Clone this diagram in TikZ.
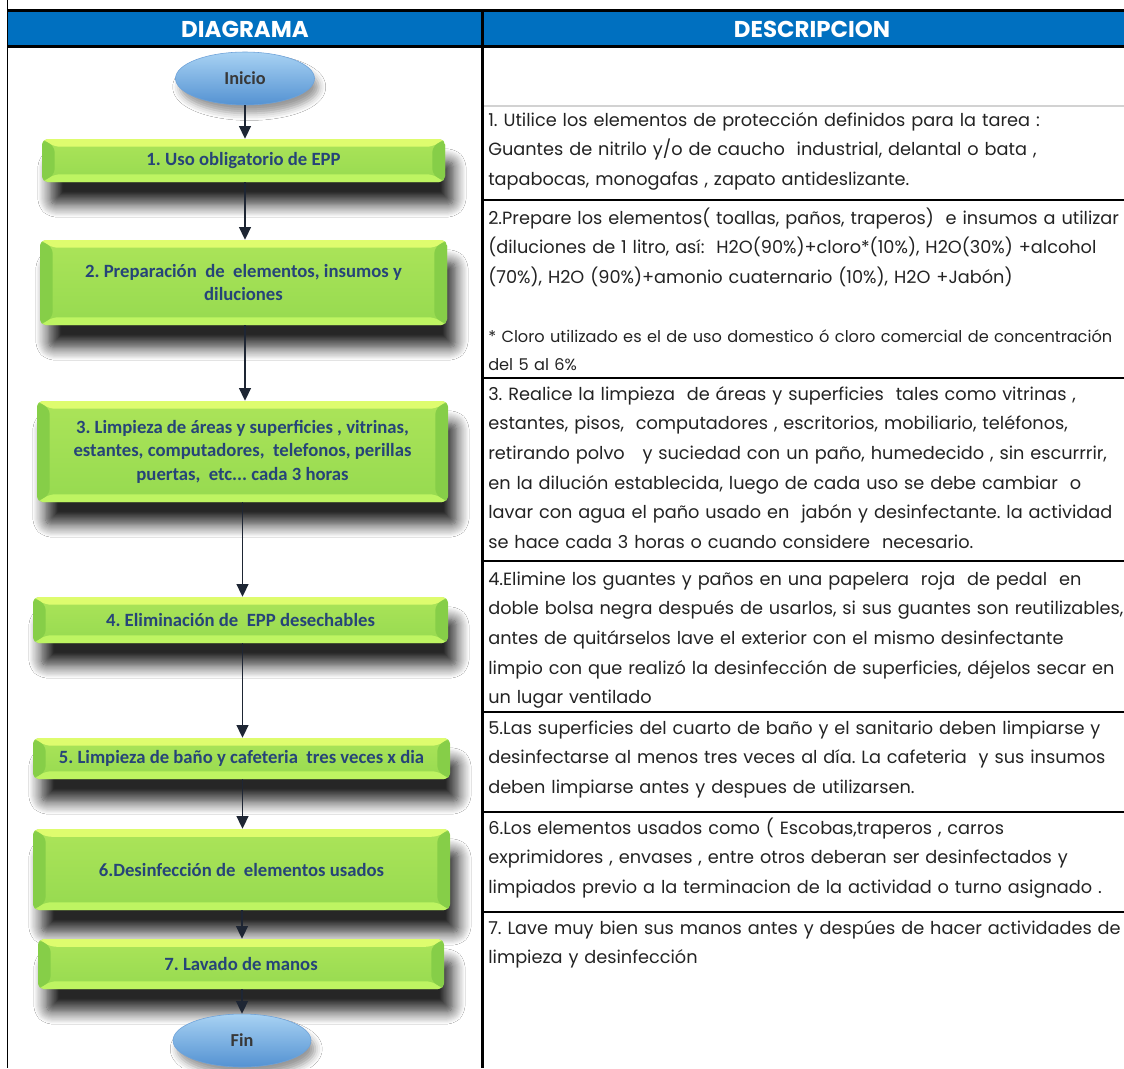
\documentclass[tikz,border=0pt]{standalone}
\usepackage{fontspec}
\setmainfont{Poppins}
\newfontfamily\calib{Carlito}
\usetikzlibrary{arrows.meta,shapes.geometric,shadows.blur}
\frenchspacing

\definecolor{hdrblue}{RGB}{0,112,192}
\definecolor{boxtxt}{RGB}{38,68,120}
\definecolor{arrowc}{RGB}{30,38,52}
\definecolor{gface}{RGB}{150,218,80}
\definecolor{gtop}{RGB}{222,252,110}
\definecolor{gbot}{RGB}{190,244,98}
\definecolor{gside}{RGB}{134,206,72}
\definecolor{etop}{RGB}{168,210,243}
\definecolor{ebot}{RGB}{84,146,210}
\definecolor{desctxt}{RGB}{35,35,35}

\newcommand\pxu{0.025cm}

\tikzset{
  boxsize/.style 2 args={minimum width=#1*\pxu, minimum height=#2*\pxu},
  stepbox/.style={rectangle, rounded corners=4pt, inner sep=0pt, align=center,
    top color=gface!70!gtop, bottom color=gface,
    font=\calib\bfseries\fontsize{13.3}{16.7}\selectfont, text=boxtxt,
    blur shadow={shadow xshift=6pt, shadow yshift=-16pt, shadow blur radius=9pt,
      shadow blur steps=12, shadow opacity=85},
    path picture={
      \fill[gtop] (path picture bounding box.north west) -- (path picture bounding box.north east)
        -- ([xshift=-9pt,yshift=-5.5pt]path picture bounding box.north east)
        -- ([xshift=9pt,yshift=-5.5pt]path picture bounding box.north west) -- cycle;
      \fill[gbot] (path picture bounding box.south west) -- (path picture bounding box.south east)
        -- ([xshift=-9pt,yshift=5.5pt]path picture bounding box.south east)
        -- ([xshift=9pt,yshift=5.5pt]path picture bounding box.south west) -- cycle;
      \fill[gside] (path picture bounding box.north west)
        -- ([xshift=9pt,yshift=-5.5pt]path picture bounding box.north west)
        -- ([xshift=9pt,yshift=5.5pt]path picture bounding box.south west)
        -- (path picture bounding box.south west) -- cycle;
      \fill[gside] (path picture bounding box.north east)
        -- ([xshift=-9pt,yshift=-5.5pt]path picture bounding box.north east)
        -- ([xshift=-9pt,yshift=5.5pt]path picture bounding box.south east)
        -- (path picture bounding box.south east) -- cycle;
    }},
  endpt/.style={ellipse, inner sep=0pt, top color=etop, bottom color=ebot, draw=ebot!85!white,
    font=\calib\bfseries\fontsize{13}{15}\selectfont, text=black!78,
    blur shadow={shadow xshift=3pt, shadow yshift=-6pt, shadow blur radius=5pt, shadow opacity=40}},
  flow/.style={-{Triangle[width=8.5pt,length=9pt]}, draw=arrowc, line width=0.9pt},
  thickrule/.style={line width=2.1pt, black},
  hdr/.style={font=\bfseries\fontsize{16.3}{19}\selectfont, text=white, inner sep=0pt},
  desc/.style={anchor=base west, inner sep=0pt, text width=30cm, align=left, text=desctxt,
    font=\fontsize{12.6}{21.1}\selectfont},
  descsmall/.style={desc, font=\fontsize{11.5}{20}\selectfont},
}

\begin{document}
\begin{tikzpicture}[x=0.025cm,y=-0.025cm]
  \useasboundingbox (0,0) rectangle (1124,1068);
  \fill[white] (0,0) rectangle (1124,1068);

  % table frame
  \fill[hdrblue] (7,11) rectangle (1124,46);
  \draw[line width=0.7pt] (7,0) -- (7,1068);
  \draw[thickrule] (7,10.5) -- (1124,10.5);
  \draw[thickrule] (7,46.5) -- (1124,46.5);
  \draw[thickrule] (482.5,10) -- (482.5,1068);
  \draw[gray!35, line width=1.2pt] (484,106) -- (1124,106);
  \foreach \y in {200,378,561,712,812,912}
    \draw[thickrule] (483,\y) -- (1124,\y);

  \node[hdr] (hdiag) at (245,29) {DIAGRAMA};
  \node[hdr] (hdesc) at (812,29) {DESCRIPCION};

  % flow chart
  \node[endpt, boxsize={139}{53}] (inicio) at (245,78.5) {Inicio};
  \node[stepbox, boxsize={403}{43}] (b1) at (243.5,160.5) {1. Uso obligatorio de EPP};
  \node[stepbox, boxsize={407}{85}] (b2) at (243.5,282.5) {2. Preparación \ de \ elementos, insumos y\\diluciones};
  \node[stepbox, boxsize={411}{101}] (b3) at (242.5,451.5) {3. Limpieza de áreas y superficies , vitrinas,\\estantes, computadores, \ telefonos, perillas\\puertas, \ etc... cada 3 horas};
  \node[stepbox, boxsize={415}{46}] (b4) at (240.5,620) {4. Eliminación de \ EPP desechables};
  \node[stepbox, boxsize={417}{41}] (b5) at (241.5,758.5) {5. Limpieza de baño y cafeteria \ tres veces x dia};
  \node[stepbox, boxsize={417}{81}] (b6) at (241.5,869.5) {6.Desinfección de \ elementos usados};
  \node[stepbox, boxsize={406}{50}] (b7) at (241,964) {7. Lavado de manos};
  \node[endpt, boxsize={138}{53}] (fin) at (242,1040.5) {Fin};

  \draw[flow] (inicio) -- (inicio |- b1.north);
  \draw[flow] (b1.south -| inicio) -- (inicio |- b2.north);
  \draw[flow] (b2.south -| inicio) -- (inicio |- b3.north);
  \draw[flow] (b3) -- (b3 |- b4.north);
  \draw[flow] (b4.south -| b3) -- (b3 |- b5.north);
  \draw[flow] (b5.south -| b3) -- (b3 |- b6.north);
  \draw[flow] (b6.south -| fin) -- (fin |- b7.north);
  \draw[flow] (b7.south -| fin) -- (fin.north);

  % descriptions
  \begin{scope}
    \clip (484,48) rectangle (1124,1068);
    \node[desc] (d1) at (488,126) {1. Utilice los elementos de protección definidos para la tarea :\\Guantes de nitrilo y/o de caucho \ industrial, delantal o bata ,\\tapabocas, monogafas , zapato antideslizante.};
    \node[desc] (d2) at (488,224) {2.Prepare los elementos( toallas, paños, traperos) \ e insumos a utilizar\\(diluciones de 1 litro, así: \ H2O(90\%)+cloro*(10\%), H2O(30\%) +alcohol\\(70\%), H2O (90\%)+amonio cuaternario (10\%), H2O +Jabón)};
    \node[descsmall] (d2n) at (488,342) {* Cloro utilizado es el de uso domestico ó cloro comercial de concentración\\del 5 al 6\%};
    \node[desc] (d3) at (488,400) {3. Realice la limpieza \ de áreas y superficies \ tales como vitrinas ,\\estantes, pisos, \ computadores , escritorios, mobiliario, teléfonos,\\retirando polvo \ \ y suciedad con un paño, humedecido , sin escurrrir,\\en la dilución establecida, luego de cada uso se debe cambiar \ o\\lavar con agua el paño usado en \ jabón y desinfectante. la actividad\\se hace cada 3 horas o cuando considere \ necesario.};
    \node[desc] (d4) at (488,585) {4.Elimine los guantes y paños en una papelera \ roja \ de pedal \ en\\doble bolsa negra después de usarlos, si sus guantes son reutilizables,\\antes de quitárselos lave el exterior con el mismo desinfectante\\limpio con que realizó la desinfección de superficies, déjelos secar en\\un lugar ventilado};
    \node[desc] (d5) at (488,734) {5.Las superficies del cuarto de baño y el sanitario deben limpiarse y\\desinfectarse al menos tres veces al día. La cafeteria \ y sus insumos\\deben limpiarse antes y despues de utilizarsen.};
    \node[desc] (d6) at (488,834) {6.Los elementos usados como ( Escobas,traperos , carros\\exprimidores , envases , entre otros deberan ser desinfectados y\\limpiados previo a la terminacion de la actividad o turno asignado .};
    \node[desc] (d7) at (488,934) {7. Lave muy bien sus manos antes y despúes de hacer actividades de\\limpieza y desinfección};
  \end{scope}
\end{tikzpicture}
\end{document}
